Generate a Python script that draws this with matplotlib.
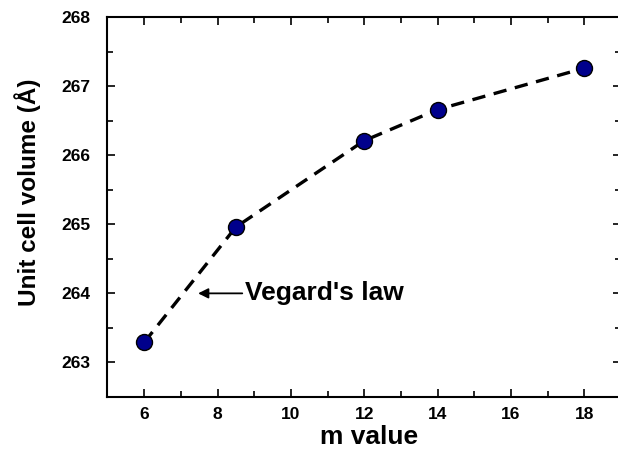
import matplotlib
matplotlib.use("Agg")
import matplotlib.pyplot as plt
from matplotlib.ticker import MultipleLocator

m_values = [6, 8.5, 12, 14, 18]
volumes = [263.29, 264.96, 266.21, 266.66, 267.26]
x_ticks = [6, 8, 10, 12, 14, 16, 18]
y_ticks = [263, 264, 265, 266, 267, 268]

plt.rcParams['font.family'] = ['Liberation Sans', 'DejaVu Sans']
plt.rcParams['font.weight'] = 'bold'

W, H = 618, 449
fig = plt.figure(figsize=(W/100, H/100), dpi=100)
ax = fig.add_axes([107.5/W, (H-397)/H, (621-107.5)/W, (397-17)/H])

ax.plot(m_values, volumes, color='black', lw=2.4, ls=(0, (4.0, 2.6)), zorder=2)
ax.plot(m_values, volumes, ls='none', marker='o', ms=11.5, mfc='#00008c',
        mec='black', mew=1.0, zorder=3)

ax.set_xlim(5, 19)
ax.set_ylim(262.5, 268)
ax.set_xticks(x_ticks)
ax.set_yticks(y_ticks)
ax.xaxis.set_minor_locator(MultipleLocator(1))
ax.yaxis.set_minor_locator(MultipleLocator(0.5))

ax.tick_params(which='both', direction='in', top=True, right=True, width=1.2)
ax.tick_params(which='major', length=5.5)
ax.tick_params(which='minor', length=4)
ax.tick_params(axis='y', which='major', pad=12, labelsize=12.5)
ax.tick_params(axis='x', which='major', pad=7, labelsize=12.5)
for lab in ax.get_xticklabels() + ax.get_yticklabels():
    lab.set_fontweight('bold')
for s in ax.spines.values():
    s.set_linewidth(1.5)

ax.set_xlabel('m value', fontsize=19, fontweight='bold')
ax.xaxis.set_label_coords((369 - 107.5) / 513.5, -(448.5 - 397) / 380)
ax.xaxis.label.set_va('bottom')
ax.set_ylabel('Unit cell volume (Å)', fontsize=17.5, fontweight='bold')
ax.yaxis.set_label_coords((41 - 107.5) / 513.5, (397 - 192) / 380)

ax.annotate("Vegard's law", xy=(7.47, 264.0), xytext=(8.75, 264.0),
            fontsize=19, fontweight='bold', va='center', ha='left',
            arrowprops=dict(arrowstyle='-|>', color='black', lw=1.3,
                            mutation_scale=15, shrinkA=0, shrinkB=0))

fig.savefig('out.png', dpi=100)
